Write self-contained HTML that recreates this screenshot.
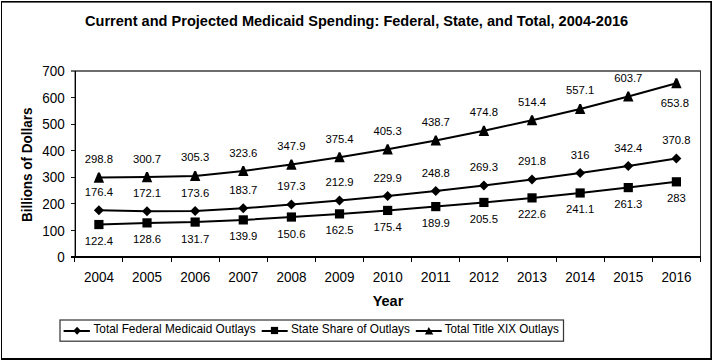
<!DOCTYPE html><html><head><meta charset="utf-8"><style>html,body{margin:0;padding:0;background:#fff;width:713px;height:360px;overflow:hidden}svg{display:block}text{font-family:"Liberation Sans",sans-serif;fill:#000}</style></head><body>
<svg width="713" height="360" viewBox="0 0 713 360">
<rect x="0" y="0" width="713" height="360" fill="#fff"/>
<rect x="1" y="1" width="1" height="359" fill="#000"/>
<rect x="1" y="1" width="711" height="1.6" fill="#000"/>
<rect x="710.3" y="1" width="1.7" height="359" fill="#000"/>
<rect x="1" y="358" width="711" height="2" fill="#000"/>
<text x="85" y="26.2" font-weight="bold" font-size="14.5" textLength="543.2" lengthAdjust="spacingAndGlyphs">Current and Projected Medicaid Spending: Federal, State, and Total, 2004-2016</text>
<rect x="71" y="70.2" width="629.5" height="1.6" fill="#4a4a4a"/>
<rect x="700" y="70.5" width="1" height="191" fill="#333"/>
<rect x="74.6" y="71" width="1.4" height="187" fill="#000"/>
<rect x="71" y="257" width="4.5" height="1" fill="#111"/>
<text x="64.8" y="262.20" font-size="14.4" text-anchor="end" textLength="7.51" lengthAdjust="spacingAndGlyphs">0</text>
<rect x="71" y="230" width="4.5" height="1" fill="#111"/>
<text x="64.8" y="235.60" font-size="14.4" text-anchor="end" textLength="22.52" lengthAdjust="spacingAndGlyphs">100</text>
<rect x="71" y="203" width="4.5" height="1" fill="#111"/>
<text x="64.8" y="209.00" font-size="14.4" text-anchor="end" textLength="22.52" lengthAdjust="spacingAndGlyphs">200</text>
<rect x="71" y="177" width="4.5" height="1" fill="#111"/>
<text x="64.8" y="182.40" font-size="14.4" text-anchor="end" textLength="22.52" lengthAdjust="spacingAndGlyphs">300</text>
<rect x="71" y="150" width="4.5" height="1" fill="#111"/>
<text x="64.8" y="155.80" font-size="14.4" text-anchor="end" textLength="22.52" lengthAdjust="spacingAndGlyphs">400</text>
<rect x="71" y="124" width="4.5" height="1" fill="#111"/>
<text x="64.8" y="129.20" font-size="14.4" text-anchor="end" textLength="22.52" lengthAdjust="spacingAndGlyphs">500</text>
<rect x="71" y="97" width="4.5" height="1" fill="#111"/>
<text x="64.8" y="102.60" font-size="14.4" text-anchor="end" textLength="22.52" lengthAdjust="spacingAndGlyphs">600</text>
<text x="64.8" y="76.00" font-size="14.4" text-anchor="end" textLength="22.52" lengthAdjust="spacingAndGlyphs">700</text>
<rect x="71" y="256" width="630" height="2" fill="#000"/>
<rect x="74" y="256" width="1" height="6" fill="#000"/>
<rect x="122" y="256" width="1" height="6" fill="#000"/>
<rect x="171" y="256" width="1" height="6" fill="#000"/>
<rect x="219" y="256" width="1" height="6" fill="#000"/>
<rect x="267" y="256" width="1" height="6" fill="#000"/>
<rect x="315" y="256" width="1" height="6" fill="#000"/>
<rect x="363" y="256" width="1" height="6" fill="#000"/>
<rect x="411" y="256" width="1" height="6" fill="#000"/>
<rect x="459" y="256" width="1" height="6" fill="#000"/>
<rect x="507" y="256" width="1" height="6" fill="#000"/>
<rect x="556" y="256" width="1" height="6" fill="#000"/>
<rect x="604" y="256" width="1" height="6" fill="#000"/>
<rect x="652" y="256" width="1" height="6" fill="#000"/>
<rect x="700" y="256" width="1" height="6" fill="#000"/>
<text x="98.90" y="282" font-size="14.4" text-anchor="middle" textLength="30.03" lengthAdjust="spacingAndGlyphs">2004</text>
<text x="147.03" y="282" font-size="14.4" text-anchor="middle" textLength="30.03" lengthAdjust="spacingAndGlyphs">2005</text>
<text x="195.15" y="282" font-size="14.4" text-anchor="middle" textLength="30.03" lengthAdjust="spacingAndGlyphs">2006</text>
<text x="243.28" y="282" font-size="14.4" text-anchor="middle" textLength="30.03" lengthAdjust="spacingAndGlyphs">2007</text>
<text x="291.40" y="282" font-size="14.4" text-anchor="middle" textLength="30.03" lengthAdjust="spacingAndGlyphs">2008</text>
<text x="339.52" y="282" font-size="14.4" text-anchor="middle" textLength="30.03" lengthAdjust="spacingAndGlyphs">2009</text>
<text x="387.65" y="282" font-size="14.4" text-anchor="middle" textLength="30.03" lengthAdjust="spacingAndGlyphs">2010</text>
<text x="435.77" y="282" font-size="14.4" text-anchor="middle" textLength="30.03" lengthAdjust="spacingAndGlyphs">2011</text>
<text x="483.90" y="282" font-size="14.4" text-anchor="middle" textLength="30.03" lengthAdjust="spacingAndGlyphs">2012</text>
<text x="532.02" y="282" font-size="14.4" text-anchor="middle" textLength="30.03" lengthAdjust="spacingAndGlyphs">2013</text>
<text x="580.15" y="282" font-size="14.4" text-anchor="middle" textLength="30.03" lengthAdjust="spacingAndGlyphs">2014</text>
<text x="628.27" y="282" font-size="14.4" text-anchor="middle" textLength="30.03" lengthAdjust="spacingAndGlyphs">2015</text>
<text x="676.40" y="282" font-size="14.4" text-anchor="middle" textLength="30.03" lengthAdjust="spacingAndGlyphs">2016</text>
<text x="388.0" y="305.9" font-weight="bold" font-size="14.5" text-anchor="middle">Year</text>
<text transform="translate(31.6,164.85) rotate(-90)" font-weight="bold" font-size="14" text-anchor="middle" textLength="114.4" lengthAdjust="spacingAndGlyphs">Billions of Dollars</text>
<polyline points="98.90,177.62 147.03,177.11 195.15,175.89 243.28,171.02 291.40,164.56 339.52,157.24 387.65,149.29 435.77,140.41 483.90,130.80 532.02,120.27 580.15,108.91 628.27,96.52 676.40,83.19" fill="none" stroke="#000" stroke-width="2"/>
<polyline points="98.90,210.18 147.03,211.32 195.15,210.92 243.28,208.24 291.40,204.62 339.52,200.47 387.65,195.95 435.77,190.92 483.90,185.47 532.02,179.48 580.15,173.04 628.27,166.02 676.40,158.47" fill="none" stroke="#000" stroke-width="2"/>
<polyline points="98.90,224.54 147.03,222.89 195.15,222.07 243.28,219.89 291.40,217.04 339.52,213.88 387.65,210.44 435.77,206.59 483.90,202.44 532.02,197.89 580.15,192.97 628.27,187.59 676.40,181.82" fill="none" stroke="#000" stroke-width="2"/>
<path d="M98.00 172.62 L99.80 172.62 L104.10 182.72 L93.70 182.72 Z" fill="#000"/>
<path d="M146.12 172.11 L147.93 172.11 L152.22 182.21 L141.83 182.21 Z" fill="#000"/>
<path d="M194.25 170.89 L196.05 170.89 L200.35 180.99 L189.95 180.99 Z" fill="#000"/>
<path d="M242.38 166.02 L244.18 166.02 L248.47 176.12 L238.08 176.12 Z" fill="#000"/>
<path d="M290.50 159.56 L292.30 159.56 L296.60 169.66 L286.20 169.66 Z" fill="#000"/>
<path d="M338.62 152.24 L340.42 152.24 L344.72 162.34 L334.32 162.34 Z" fill="#000"/>
<path d="M386.75 144.29 L388.55 144.29 L392.85 154.39 L382.45 154.39 Z" fill="#000"/>
<path d="M434.88 135.41 L436.67 135.41 L440.97 145.51 L430.57 145.51 Z" fill="#000"/>
<path d="M483.00 125.80 L484.80 125.80 L489.10 135.90 L478.70 135.90 Z" fill="#000"/>
<path d="M531.12 115.27 L532.92 115.27 L537.23 125.37 L526.82 125.37 Z" fill="#000"/>
<path d="M579.25 103.91 L581.05 103.91 L585.35 114.01 L574.95 114.01 Z" fill="#000"/>
<path d="M627.38 91.52 L629.17 91.52 L633.48 101.62 L623.07 101.62 Z" fill="#000"/>
<path d="M675.50 78.19 L677.30 78.19 L681.60 88.29 L671.20 88.29 Z" fill="#000"/>
<path d="M98.90 205.18 L103.90 210.18 L98.90 215.18 L93.90 210.18 Z" fill="#000"/>
<path d="M147.03 206.32 L152.03 211.32 L147.03 216.32 L142.03 211.32 Z" fill="#000"/>
<path d="M195.15 205.92 L200.15 210.92 L195.15 215.92 L190.15 210.92 Z" fill="#000"/>
<path d="M243.28 203.24 L248.28 208.24 L243.28 213.24 L238.28 208.24 Z" fill="#000"/>
<path d="M291.40 199.62 L296.40 204.62 L291.40 209.62 L286.40 204.62 Z" fill="#000"/>
<path d="M339.52 195.47 L344.52 200.47 L339.52 205.47 L334.52 200.47 Z" fill="#000"/>
<path d="M387.65 190.95 L392.65 195.95 L387.65 200.95 L382.65 195.95 Z" fill="#000"/>
<path d="M435.77 185.92 L440.77 190.92 L435.77 195.92 L430.77 190.92 Z" fill="#000"/>
<path d="M483.90 180.47 L488.90 185.47 L483.90 190.47 L478.90 185.47 Z" fill="#000"/>
<path d="M532.02 174.48 L537.02 179.48 L532.02 184.48 L527.02 179.48 Z" fill="#000"/>
<path d="M580.15 168.04 L585.15 173.04 L580.15 178.04 L575.15 173.04 Z" fill="#000"/>
<path d="M628.27 161.02 L633.27 166.02 L628.27 171.02 L623.27 166.02 Z" fill="#000"/>
<path d="M676.40 153.47 L681.40 158.47 L676.40 163.47 L671.40 158.47 Z" fill="#000"/>
<rect x="94.30" y="219.94" width="9.2" height="9.2" fill="#000"/>
<rect x="142.43" y="218.29" width="9.2" height="9.2" fill="#000"/>
<rect x="190.55" y="217.47" width="9.2" height="9.2" fill="#000"/>
<rect x="238.68" y="215.29" width="9.2" height="9.2" fill="#000"/>
<rect x="286.80" y="212.44" width="9.2" height="9.2" fill="#000"/>
<rect x="334.92" y="209.28" width="9.2" height="9.2" fill="#000"/>
<rect x="383.05" y="205.84" width="9.2" height="9.2" fill="#000"/>
<rect x="431.17" y="201.99" width="9.2" height="9.2" fill="#000"/>
<rect x="479.30" y="197.84" width="9.2" height="9.2" fill="#000"/>
<rect x="527.42" y="193.29" width="9.2" height="9.2" fill="#000"/>
<rect x="575.55" y="188.37" width="9.2" height="9.2" fill="#000"/>
<rect x="623.67" y="182.99" width="9.2" height="9.2" fill="#000"/>
<rect x="671.80" y="177.22" width="9.2" height="9.2" fill="#000"/>
<text x="98.90" y="163.12" font-size="11.3" text-anchor="middle">298.8</text>
<text x="147.03" y="162.61" font-size="11.3" text-anchor="middle">300.7</text>
<text x="195.15" y="161.39" font-size="11.3" text-anchor="middle">305.3</text>
<text x="243.28" y="156.52" font-size="11.3" text-anchor="middle">323.6</text>
<text x="291.40" y="150.06" font-size="11.3" text-anchor="middle">347.9</text>
<text x="339.52" y="142.74" font-size="11.3" text-anchor="middle">375.4</text>
<text x="387.65" y="134.79" font-size="11.3" text-anchor="middle">405.3</text>
<text x="435.77" y="125.91" font-size="11.3" text-anchor="middle">438.7</text>
<text x="483.90" y="116.30" font-size="11.3" text-anchor="middle">474.8</text>
<text x="532.02" y="105.77" font-size="11.3" text-anchor="middle">514.4</text>
<text x="580.15" y="94.41" font-size="11.3" text-anchor="middle">557.1</text>
<text x="628.27" y="82.02" font-size="11.3" text-anchor="middle">603.7</text>
<text x="674.90" y="107.19" font-size="11.3" text-anchor="middle">653.8</text>
<text x="98.90" y="195.98" font-size="11.3" text-anchor="middle">176.4</text>
<text x="147.03" y="197.12" font-size="11.3" text-anchor="middle">172.1</text>
<text x="195.15" y="196.72" font-size="11.3" text-anchor="middle">173.6</text>
<text x="243.28" y="194.04" font-size="11.3" text-anchor="middle">183.7</text>
<text x="291.40" y="190.42" font-size="11.3" text-anchor="middle">197.3</text>
<text x="339.52" y="186.27" font-size="11.3" text-anchor="middle">212.9</text>
<text x="387.65" y="181.75" font-size="11.3" text-anchor="middle">229.9</text>
<text x="435.77" y="176.72" font-size="11.3" text-anchor="middle">248.8</text>
<text x="483.90" y="171.27" font-size="11.3" text-anchor="middle">269.3</text>
<text x="532.02" y="165.28" font-size="11.3" text-anchor="middle">291.8</text>
<text x="580.15" y="158.84" font-size="11.3" text-anchor="middle">316</text>
<text x="628.27" y="151.82" font-size="11.3" text-anchor="middle">342.4</text>
<text x="676.40" y="144.27" font-size="11.3" text-anchor="middle">370.8</text>
<text x="98.90" y="245.04" font-size="11.3" text-anchor="middle">122.4</text>
<text x="147.03" y="243.39" font-size="11.3" text-anchor="middle">128.6</text>
<text x="195.15" y="242.57" font-size="11.3" text-anchor="middle">131.7</text>
<text x="243.28" y="240.39" font-size="11.3" text-anchor="middle">139.9</text>
<text x="291.40" y="237.54" font-size="11.3" text-anchor="middle">150.6</text>
<text x="339.52" y="234.38" font-size="11.3" text-anchor="middle">162.5</text>
<text x="387.65" y="230.94" font-size="11.3" text-anchor="middle">175.4</text>
<text x="435.77" y="227.09" font-size="11.3" text-anchor="middle">189.9</text>
<text x="483.90" y="222.94" font-size="11.3" text-anchor="middle">205.5</text>
<text x="532.02" y="218.39" font-size="11.3" text-anchor="middle">222.6</text>
<text x="580.15" y="213.47" font-size="11.3" text-anchor="middle">241.1</text>
<text x="628.27" y="208.09" font-size="11.3" text-anchor="middle">261.3</text>
<text x="676.40" y="202.32" font-size="11.3" text-anchor="middle">283</text>
<rect x="60" y="320" width="503.5" height="21.2" fill="none" stroke="#383838" stroke-width="1.25"/>
<line x1="63.6" y1="331.0" x2="89.9" y2="331.0" stroke="#000" stroke-width="2"/>
<path d="M77.1 326.8 L80.9 330.8 L77.1 334.8 L73.3 330.8 Z" fill="#000"/>
<text x="93.4" y="333.4" font-size="12.8" textLength="162.3" lengthAdjust="spacingAndGlyphs">Total Federal Medicaid Outlays</text>
<line x1="261.7" y1="331.0" x2="287.7" y2="331.0" stroke="#000" stroke-width="2"/>
<rect x="270.9" y="326.9" width="7.2" height="7.2" fill="#000"/>
<text x="290.9" y="333.4" font-size="12.8" textLength="119" lengthAdjust="spacingAndGlyphs">State Share of Outlays</text>
<line x1="415.8" y1="331.0" x2="441.7" y2="331.0" stroke="#000" stroke-width="2"/>
<path d="M428.8 326.9 L433.3 334.6 L424.9 334.6 Z" fill="#000"/>
<text x="444.8" y="333.4" font-size="12.8" textLength="114" lengthAdjust="spacingAndGlyphs">Total Title XIX Outlays</text>
</svg></body></html>
